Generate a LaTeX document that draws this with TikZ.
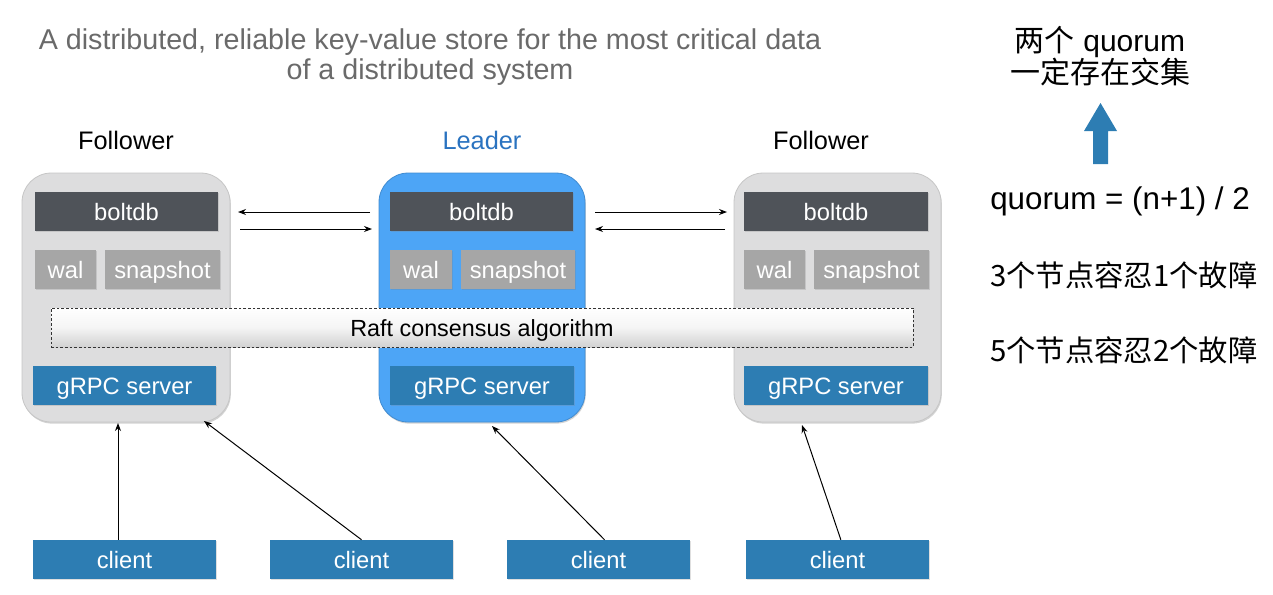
\documentclass[tikz,border=0pt]{standalone}
\usepackage{fontspec}
\setmainfont{Liberation Sans}
\newfontfamily\cjk{Noto Sans CJK SC}
\usetikzlibrary{arrows.meta,shadows}
\definecolor{boxgray}{HTML}{DDDDDE}
\definecolor{leaderblue}{HTML}{4DA5F6}
\definecolor{grpcblue}{HTML}{2D7DB3}
\definecolor{darkbox}{HTML}{4F5359}
\definecolor{midgray}{HTML}{A6A6A6}
\definecolor{titlegray}{HTML}{6A6A6A}
\definecolor{leadertext}{HTML}{2A73C0}
\tikzset{
  x=0.75pt, y=-0.75pt,
  sz/.style 2 args={minimum width=#1*0.75pt, minimum height=#2*0.75pt},
  outer/.style={rounded corners=22pt, inner sep=0pt, drop shadow={shadow xshift=0.6pt, shadow yshift=-1.2pt, opacity=0.35}},
  follower/.style={outer, fill=boxgray, draw=gray!45, line width=0.6pt},
  leader/.style={outer, fill=leaderblue, draw=leaderblue!85!black, line width=0.6pt},
  inner/.style={inner sep=0pt, text=white, text height=13pt, text depth=0pt, font=\fontsize{17.8}{20}\selectfont, drop shadow={shadow xshift=0.5pt, shadow yshift=-0.8pt, opacity=0.25}},
  darkb/.style={inner, fill=darkbox},
  grayb/.style={inner, fill=midgray},
  blueb/.style={inner, fill=grpcblue},
  lbl/.style={font=\fontsize{19}{22}\selectfont},
  arr/.style={-{Stealth[length=6pt,width=4.5pt]}, line width=0.75pt},
  rtext/.style={anchor=west, font=\fontsize{23.5}{28}\selectfont, inner sep=0pt},
}
\begin{document}
\begin{tikzpicture}
\useasboundingbox (0,0) rectangle (1273,594);
% title
\node[text=titlegray, font=\fontsize{21.5}{22}\selectfont, align=center] (title) at (430,57)
  {A distributed, reliable key-value store for the most critical data\\of a distributed system};
% labels
\node[lbl] (lf1) at (126,140) {Follower};
\node[lbl, text=leadertext] (ll) at (482,140) {Leader};
\node[lbl] (lf2) at (821,140) {Follower};
% outer boxes
\node[follower, sz={208}{249}] (f1) at (126,297.5) {};
\node[leader, sz={206}{249}] (ld) at (482,297.5) {};
\node[follower, sz={207}{249}] (f2) at (837.5,297.5) {};
% follower 1
\node[darkb, sz={183}{39}] (b1) at (126.5,211.5) {boltdb};
\node[grayb, sz={61}{39}] (w1) at (65.5,269.5) {wal};
\node[grayb, sz={115}{39}] (s1) at (162.5,269.5) {snapshot};
\node[blueb, sz={183}{39}] (g1) at (124.5,385.5) {gRPC server};
% leader
\node[darkb, sz={183}{39}] (b2) at (481.5,211.5) {boltdb};
\node[grayb, sz={62}{39}] (w2) at (421,269.5) {wal};
\node[grayb, sz={114}{39}] (s2) at (518,269.5) {snapshot};
\node[blueb, sz={184}{39}] (g2) at (482,385.5) {gRPC server};
% follower 2
\node[darkb, sz={184}{39}] (b3) at (836,211.5) {boltdb};
\node[grayb, sz={61}{39}] (w3) at (774.5,269.5) {wal};
\node[grayb, sz={115}{39}] (s3) at (871.5,269.5) {snapshot};
\node[blueb, sz={184}{39}] (g3) at (836,385.5) {gRPC server};
% raft
\node[sz={862}{39}, inner sep=0pt, draw=black!80, line width=0.6pt, dash pattern=on 2pt off 1.5pt,
  top color=white, bottom color=black!18, middle color=black!4,
  text height=12.8pt, text depth=0pt,
  font=\fontsize{17.5}{20}\selectfont, text=black] (raft) at (482,327.5) {Raft consensus algorithm};
% peer arrows
\coordinate (a1s) at (370,212); \coordinate (a1e) at (238,212);
\coordinate (a2s) at (240,229); \coordinate (a2e) at (372,229);
\coordinate (a3s) at (595,212); \coordinate (a3e) at (727,212);
\coordinate (a4s) at (725,229); \coordinate (a4e) at (595,229);
\draw[arr] (a1s) -- (a1e);
\draw[arr] (a2s) -- (a2e);
\draw[arr] (a3s) -- (a3e);
\draw[arr] (a4s) -- (a4e);
% clients
\node[blueb, sz={183}{39}] (c1) at (124.5,559.5) {client};
\node[blueb, sz={183}{39}] (c2) at (361.5,559.5) {client};
\node[blueb, sz={183}{39}] (c3) at (598.5,559.5) {client};
\node[blueb, sz={183}{39}] (c4) at (837.5,559.5) {client};
\coordinate (t1) at (118,423);
\coordinate (t2) at (204,421);
\coordinate (t3) at (492,426);
\coordinate (t4) at (802,425);
\draw[arr] (c1.north -| t1) -- (t1);
\draw[arr] (c2.north) -- (t2);
\draw[arr] ([xshift=4.5pt]c3.north) -- (t3);
\draw[arr] ([xshift=2.5pt]c4.north) -- (t4);
% right side
\node[align=center, font=\fontsize{22.5}{24}\selectfont, inner sep=0pt] (q) at (1100,56) {{\cjk 两个} quorum\\{\cjk 一定存在交集}};
\fill[grpcblue] (1093,164) -- (1108,164) -- (1108,131) -- (1117,131) -- (1100.5,103) -- (1084,131) -- (1093,131) -- cycle;
\node[rtext] (f) at (990,201) {quorum = (n+1) / 2};
\node[rtext, font=\fontsize{22}{26}\cjk] (l3) at (990,275) {3个节点容忍1个故障};
\node[rtext, font=\fontsize{22}{26}\cjk] (l5) at (990,350) {5个节点容忍2个故障};
\end{tikzpicture}
\end{document}
